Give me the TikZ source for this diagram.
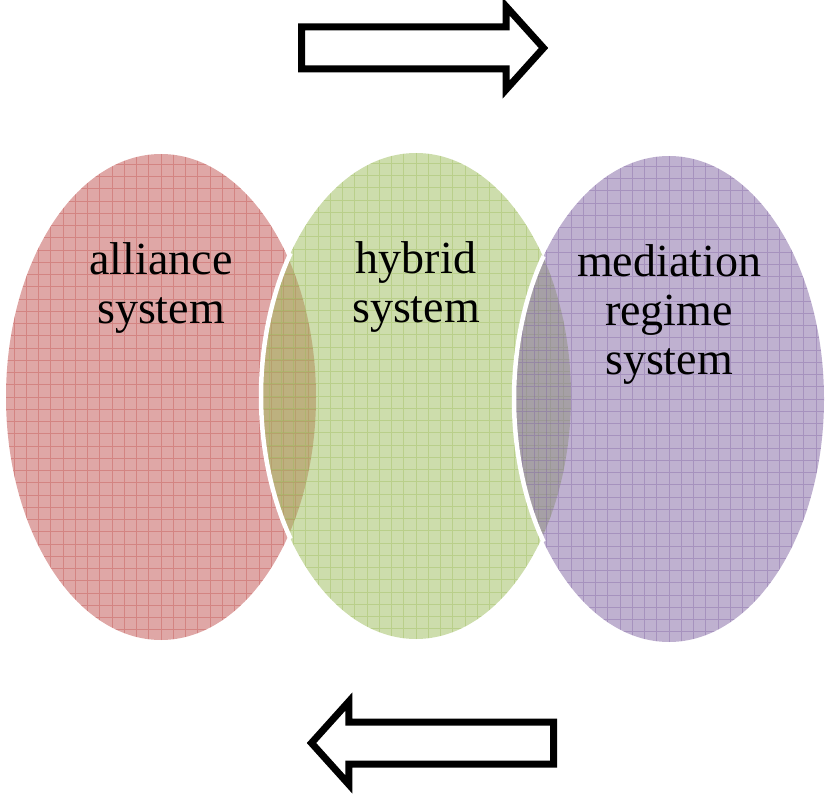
\documentclass[tikz,border=0pt]{standalone}
\usepackage{fontspec}
\setmainfont{Liberation Serif}
\usepackage{tikz}
\usetikzlibrary{shapes.geometric, shapes.arrows, positioning}
\definecolor{allianceRed}{HTML}{C0504D}
\definecolor{hybridGreen}{HTML}{9BBB59}
\definecolor{mediationPurple}{HTML}{8064A2}
\tikzset{venn/.style={ellipse, minimum width=310pt, minimum height=486pt, inner sep=0pt, outer sep=0pt, fill=#1, fill opacity=0.5, text opacity=1,
	path picture={\draw[#1, draw opacity=0.4, line width=0.8pt, step=12.25pt] (path picture bounding box.south west) grid (path picture bounding box.north east);}}}
\tikzstyle{sysname} = [align=center, inner sep=0pt, outer sep=0pt, font=\fontsize{46}{49}\selectfont]
\tikzstyle{bigarrow} = [single arrow, draw=black, fill=white, line width=7pt, minimum height=242pt, single arrow head extend=20.5pt, single arrow tip angle=96, single arrow head indent=0pt, inner xsep=0pt, inner ysep=17.5pt, outer sep=0pt]
\tikzstyle{seam} = [draw=white, line width=4.5pt]

\begin{document}
\begin{tikzpicture}[x=1pt, y=1pt, node distance=89pt]
	\useasboundingbox (0,0) rectangle (825,-794);
	% the three systems
	\node[venn=allianceRed] (alliance) at (161,-397) {};
	\node[venn=hybridGreen] (hybrid) at (416,-396) {};
	\draw[seam] ([shift={(144:155pt and 243pt)}]hybrid.center) arc[start angle=144, end angle=216, x radius=155pt, y radius=243pt];
	\node[venn=mediationPurple] (mediation) at (669,-399) {};
	\draw[seam] ([shift={(144:155pt and 243pt)}]mediation.center) arc[start angle=144, end angle=216, x radius=155pt, y radius=243pt];
	% names
	\node[sysname, below=of alliance.north] (allianceTxt) {alliance\\system};
	\node[sysname, below=of hybrid.north] (hybridTxt) {hybrid\\system};
	\node[sysname, below=of mediation.north] (mediationTxt) {mediation\\regime\\system};
	% direction arrows
	\node[bigarrow, anchor=tail] (forward) at (301.5,-48) {};
	\node[bigarrow, shape border rotate=180, anchor=tail] (backward) at (553.5,-743) {};
\end{tikzpicture}
\end{document}
